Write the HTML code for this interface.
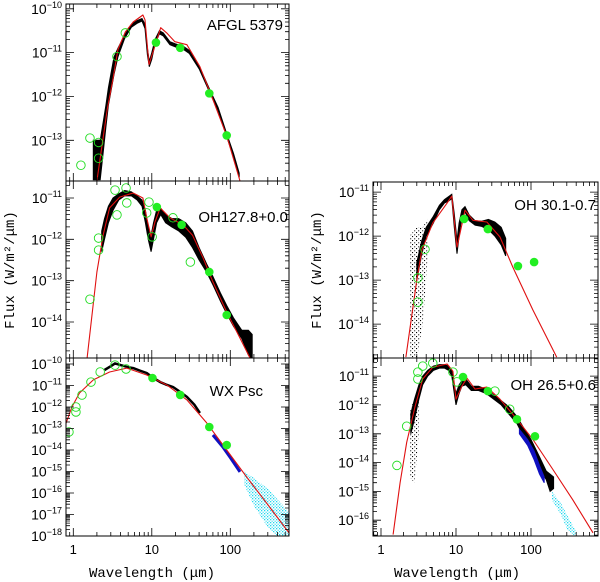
<!DOCTYPE html>
<html><head><meta charset="utf-8"><style>
html,body{margin:0;padding:0;background:#fff;}
svg{display:block;}
text{font-family:"Liberation Sans",sans-serif;}
</style></head><body>
<svg id="fig" width="600" height="582" viewBox="0 0 600 582" xmlns="http://www.w3.org/2000/svg">
<defs>
<pattern id="dots" width="4" height="4" patternUnits="userSpaceOnUse"><rect x="0" y="0" width="1.1" height="1.1" fill="#000"/><rect x="2.2" y="2.3" width="1" height="1" fill="#000"/></pattern>
<pattern id="cdots" width="3" height="3" patternUnits="userSpaceOnUse"><rect x="0" y="0" width="1.3" height="1.3" fill="#22d8ee"/><rect x="1.6" y="1.7" width="1.1" height="1.1" fill="#22d8ee"/></pattern>
</defs>
<text transform="translate(14,270) rotate(-90)" text-anchor="middle" font-size="14" style="font-family:'Liberation Mono',monospace">Flux (W/m²/μm)</text>
<text transform="translate(321,270) rotate(-90)" text-anchor="middle" font-size="14" style="font-family:'Liberation Mono',monospace">Flux (W/m²/μm)</text>
<text x="152" y="577" text-anchor="middle" font-size="14" style="font-family:'Liberation Mono',monospace">Wavelength (μm)</text>
<text x="457" y="577" text-anchor="middle" font-size="14" style="font-family:'Liberation Mono',monospace">Wavelength (μm)</text>
</svg>
<script>
// ---- AFGL 5379 ----
const afglModelLam=[2.0,2.7,3.2,3.7,4.6,5.8,7.7,8.2,9.2,10.6,13,15.5,19.7,28,41,60,90,133,200];
const afglModelLogF=[-13.93,-12.3,-11.6,-10.93,-10.53,-10.3,-10.14,-10.25,-11.27,-10.93,-10.43,-10.55,-10.75,-10.82,-11.32,-12.07,-12.9,-13.93,-15.3];
const afglSpecLam=[1.8,2.0,2.2,2.4,2.6,2.8,3.0,3.3,3.7,4.5,5.5,6.5,7.5,8.2,8.8,9.3,10,11,12.5,14,17,20,25,30,40,55,70,90,110,130];
const afglSpecLo=[-13.9,-13.9,-13.9,-13.3,-12.7,-12.2,-11.9,-11.5,-11.1,-10.68,-10.42,-10.33,-10.28,-10.45,-11.05,-11.32,-11.15,-10.8,-10.57,-10.62,-10.82,-10.87,-10.92,-11.02,-11.37,-11.92,-12.32,-12.92,-13.37,-13.85];
const afglSpecHi=[-13.0,-13.0,-13.0,-12.6,-12.2,-11.8,-11.5,-11.1,-10.9,-10.6,-10.35,-10.27,-10.22,-10.35,-10.9,-11.2,-11.0,-10.7,-10.5,-10.55,-10.75,-10.8,-10.85,-10.95,-11.3,-11.85,-12.25,-12.85,-13.3,-13.75];
const afglPhotLam=[11.3,23,54,90];
const afglPhotLogF=[-10.77,-10.89,-11.93,-12.89];
const afglOpenLam=[1.25,1.63,2.1,2.1,3.6,4.6];
const afglOpenLogF=[-13.57,-12.95,-13.05,-13.41,-11.09,-10.55];
// ---- OH127.8+0.0 ----
const oh127ModelLam=[1.5,2.0,2.4,2.9,3.9,5.8,7.7,8.6,9.8,11,12.8,17,25,33,45,60,90,133,178];
const oh127ModelLogF=[-14.87,-12.79,-11.9,-11.24,-10.98,-10.88,-11.0,-11.48,-11.94,-11.58,-11.24,-11.48,-11.65,-11.9,-12.45,-13.03,-13.76,-14.39,-14.87];
const oh127SpecLam=[2.3,2.5,2.8,3.2,3.8,4.5,5.5,6.5,7.5,8.3,9,9.8,10.5,11.5,13,15,18,22,27,33,40,50,60,75,90,110,140,170,190];
const oh127SpecLo=[-12.3,-12.0,-11.6,-11.3,-11.05,-10.95,-10.95,-11.05,-11.2,-11.6,-12.0,-12.3,-12.0,-11.6,-11.4,-11.6,-11.7,-11.8,-11.95,-12.2,-12.5,-12.8,-13.1,-13.5,-13.8,-14.1,-14.4,-14.8,-14.9];
const oh127SpecHi=[-11.8,-11.5,-11.2,-11.0,-10.9,-10.82,-10.85,-10.95,-11.05,-11.3,-11.7,-11.9,-11.6,-11.3,-11.25,-11.4,-11.5,-11.5,-11.6,-11.8,-12.2,-12.6,-12.9,-13.3,-13.6,-13.9,-14.2,-14.2,-14.3];
const oh127PhotLam=[11.6,24,54,90];
const oh127PhotLogF=[-11.22,-11.65,-12.79,-13.83];
const oh127OpenLam=[1.63,2.1,2.1,3.4,4.7,3.6,4.8,9.2,8.6,10.1,18.6,31];
const oh127OpenLogF=[-13.45,-11.97,-12.26,-10.81,-10.76,-11.41,-11.12,-11.1,-11.36,-11.94,-11.48,-12.55];
// ---- WX Psc ----
const wxModelLam=[0.8,0.96,1.2,1.8,2.9,4.8,8.6,15.6,28,50,90,162,290,600];
const wxModelLogF=[-12.8,-12.0,-11.35,-10.74,-10.37,-10.19,-10.51,-10.98,-11.67,-12.74,-14.0,-15.26,-16.47,-18.0];
const wxSpecLam=[2.5,3.0,3.4,4,5,5.8,7,8.6,10,12.8,15,18.6,22,28,35,41];
const wxSpecLogF=[-10.28,-10.1,-9.97,-10.05,-10.15,-10.19,-10.3,-10.42,-10.6,-10.84,-10.95,-11.07,-11.25,-11.53,-11.9,-12.28];
const wxBlueLam=[60,80,100,133];
const wxBlueLogF=[-13.3,-13.85,-14.35,-15.02];
const wxCyanLam=[150,200,300,400,600];
const wxCyanHi=[-15.0,-15.3,-15.8,-16.3,-17.0];
const wxCyanLo=[-15.6,-16.6,-17.6,-18,-18];
const wxPhotLam=[10.2,23,54,90];
const wxPhotLogF=[-10.65,-11.44,-12.93,-13.77];
const wxOpenLam=[0.88,1.08,1.08,1.29,1.68,2.2,3.4,4.7];
const wxOpenLogF=[-13.16,-12.23,-12.0,-11.44,-10.84,-10.37,-10.05,-10.23];
// ---- OH 30.1-0.7 ----
const oh30ModelLam=[2.15,3.0,3.5,4.9,7.6,8.8,10.3,13.2,16.8,25.8,38.6,57,106,220];
const oh30ModelLogF=[-14.75,-13.0,-12.32,-11.7,-11.25,-11.09,-12.25,-11.41,-11.64,-11.68,-12.02,-12.7,-13.68,-14.75];
const oh30SpecLam=[3.0,3.5,4,5,6,7,8,8.8,9.5,10.3,11,12,13.2,15,18,22,27,33,40,46];
const oh30SpecLo=[-13.0,-12.4,-12.0,-11.7,-11.4,-11.25,-11.2,-11.15,-11.8,-12.4,-12.0,-11.55,-11.45,-11.65,-11.75,-11.78,-11.85,-12.0,-12.2,-12.45];
const oh30SpecHi=[-12.6,-12.1,-11.8,-11.55,-11.3,-11.17,-11.1,-11.05,-11.5,-12.1,-11.7,-11.4,-11.33,-11.52,-11.65,-11.66,-11.62,-11.68,-11.8,-12.05];
const oh30NoiseLam=[2.4,3.0,3.6,4.2];
const oh30NoiseLo=[-14.8,-14.8,-14.0,-12.5];
const oh30NoiseHi=[-12.0,-11.8,-11.8,-11.6];
const oh30PhotLam=[12.8,26.6,67,110];
const oh30PhotLogF=[-11.61,-11.84,-12.68,-12.59];
const oh30OpenLam=[3.86,3.1,3.1];
const oh30OpenLogF=[-12.3,-12.95,-13.5];
// ---- OH 26.5+0.6 ----
const oh26ModelLam=[1.45,1.8,2.2,2.85,3.6,4.9,7.6,9.1,10,12,14,17.9,25.8,38.6,65,106,196,360,670];
const oh26ModelLogF=[-16.5,-14.7,-13.3,-12.05,-11.1,-10.69,-10.58,-10.83,-11.8,-11.35,-11.07,-11.45,-11.38,-11.8,-12.5,-13.2,-14.24,-15.29,-16.44];
const oh26SpecLam=[2.5,2.8,3.2,3.6,4.2,5,6,7,8,8.8,9.5,10,11,12,13.5,16,20,25,30,40,50,65,80,100,130,160,180,200];
const oh26SpecHi=[-12.3,-11.8,-11.3,-11.0,-10.8,-10.65,-10.6,-10.6,-10.65,-10.8,-11.3,-11.6,-11.3,-11.15,-11.1,-11.35,-11.35,-11.45,-11.6,-11.85,-12.05,-12.4,-12.8,-13.2,-13.8,-14.3,-14.4,-14.5];
const oh26SpecLo=[-13.0,-12.5,-11.8,-11.3,-11.0,-10.8,-10.72,-10.72,-10.8,-11.0,-11.6,-12.0,-11.6,-11.35,-11.3,-11.5,-11.5,-11.6,-11.75,-12.0,-12.3,-12.65,-13.1,-13.6,-14.2,-14.6,-15.0,-14.9];
const oh26NoiseLam=[2.4,2.8,3.2];
const oh26NoiseLo=[-14.5,-14.7,-13.0];
const oh26NoiseHi=[-12.2,-11.8,-11.5];
const oh26BlueLam=[70,90,110,130,150];
const oh26BlueHi=[-12.85,-13.2,-13.6,-14.1,-14.5];
const oh26BlueLo=[-13.0,-13.4,-13.9,-14.4,-14.7];
const oh26CyanLam=[190,250,300,400];
const oh26CyanHi=[-15.0,-15.4,-15.8,-16.4];
const oh26CyanLo=[-15.3,-15.8,-16.3,-16.6];
const oh26PhotLam=[12.4,26.6,65,113];
const oh26PhotLogF=[-11.03,-11.52,-12.5,-13.09];
const oh26OpenLam=[1.63,2.2,3.1,3.1,3.6,4.9,9.1,10.3,33,52];
const oh26OpenLogF=[-14.1,-12.74,-11.1,-10.86,-10.65,-10.55,-10.86,-11.2,-11.52,-12.15];
// tick label exponents
const tlTicks=[-10,-11,-12,-13];
const mlTicks=[-11,-12,-13,-14];
const blTicks=[-10,-11,-12,-13,-14,-15,-16,-17,-18];
const trTicks=[-11,-12,-13,-14];
const brTicks=[-11,-12,-13,-14,-15,-16];
const xTickLabels=[1,10,100];

const NS='http://www.w3.org/2000/svg';
const svg=document.getElementById('fig');
function mk(tag,attrs,parent){const e=document.createElementNS(NS,tag);for(const k in attrs)e.setAttribute(k,attrs[k]);(parent||svg).appendChild(e);return e;}

function panel(cfg){
  const g=mk('g',{});
  
  
  const xs=l=>cfg.x0+(Math.log10(l)-cfg.lmin)/(cfg.lmax-cfg.lmin)*(cfg.x1-cfg.x0);
  const ys=v=>cfg.y0+(cfg.ftop-v)/(cfg.ftop-cfg.fbot)*(cfg.y1-cfg.y0);
  const cid='clip'+cfg.name;
  const cp=mk('clipPath',{id:cid},g);mk('rect',{x:cfg.x0,y:cfg.y0,width:cfg.x1-cfg.x0,height:cfg.y1-cfg.y0},cp);
  const c=mk('g',{'clip-path':'url(#'+cid+')'},g);
  function band(lam,lo,hi,fill,nm){
    let pts=lam.map((l,i)=>xs(l).toFixed(1)+','+ys(hi[i]).toFixed(1));
    for(let i=lam.length-1;i>=0;i--)pts.push(xs(lam[i]).toFixed(1)+','+ys(lo[i]).toFixed(1));
    const solid=fill.indexOf('url')<0;
    const p=mk('polygon',{points:pts.join(' '),fill:fill,stroke:solid?fill:'none','stroke-width':1},c);
    
    
  }
  function line(lam,v,col,w,nm){
    const p=mk('polyline',{points:lam.map((l,i)=>xs(l).toFixed(1)+','+ys(v[i]).toFixed(1)).join(' '),fill:'none',stroke:col,'stroke-width':w,'stroke-linejoin':'round'},c);
    
    
  }
  (cfg.noise||[]).forEach(n=>band(n[0],n[1],n[2],'url(#dots)','noise-spectrum'));
  (cfg.cyan||[]).forEach(n=>band(n[0],n[1],n[2],'url(#cdots)','cyan-spectrum'));
  (cfg.spec||[]).forEach(n=>band(n[0],n[1],n[2],'#000','black-spectrum'));
  (cfg.specLine||[]).forEach(n=>line(n[0],n[1],'#000',2.5,'black-spectrum'));
  (cfg.blue||[]).forEach(n=>band(n[0],n[1],n[2],'#1010c0','blue-spectrum'));
  (cfg.blueLine||[]).forEach(n=>line(n[0],n[1],'#1010c0',3,'blue-spectrum'));
  line(cfg.model[0],cfg.model[1],'#e01010',1.1,'model-curve');
  cfg.open[0].forEach((l,i)=>{const e=mk('circle',{cx:xs(l),cy:ys(cfg.open[1][i]),r:4.3,fill:'none',stroke:'#22dd22','stroke-width':0.9},c);
    
    });
  cfg.phot[0].forEach((l,i)=>{const e=mk('circle',{cx:xs(l),cy:ys(cfg.phot[1][i]),r:4.3,fill:'#22ee22'},c);
    
    });
  const fr=mk('rect',{x:cfg.x0,y:cfg.y0,width:cfg.x1-cfg.x0,height:cfg.y1-cfg.y0,fill:'none',stroke:'#000','stroke-width':1},g);
  
  
  let d='';
  for(let e=-1;e<=3;e++)for(let m=1;m<=9;m++){const l=m*Math.pow(10,e);const lg=Math.log10(l);if(lg<cfg.lmin||lg>cfg.lmax)continue;const x=xs(l).toFixed(1);const L=m===1?8:4;d+=`M${x},${cfg.y1}v-${L}M${x},${cfg.y0}v${L}`;}
  for(let e=Math.ceil(cfg.fbot)-1;e<=Math.floor(cfg.ftop)+1;e++)for(let m=1;m<=9;m++){const v=e+Math.log10(m);if(v<cfg.fbot||v>cfg.ftop)continue;const y=ys(v).toFixed(1);const L=m===1?8:4;d+=`M${cfg.x0},${y}h${L}M${cfg.x1},${y}h-${L}`;}
  mk('path',{d:d,stroke:'#000','stroke-width':0.8,fill:'none'},g);
  cfg.yTicks.forEach(t=>{const tx=mk('text',{x:cfg.x0-4,y:ys(t)+5,'text-anchor':'end','font-size':14},g);
    
    
    tx.innerHTML='10<tspan dy="-6" font-size="9">−'+Math.abs(t)+'</tspan>';});
  if(cfg.xlabels){xTickLabels.forEach(t=>{const tx=mk('text',{x:xs(t),y:cfg.y1+18,'text-anchor':'middle','font-size':13},g);
    
    
    tx.textContent=t;});}
  const lb=mk('text',{x:cfg.lx,y:cfg.ly,'text-anchor':'end','font-size':15},g);
  
  
  lb.textContent=cfg.label;
}
const L0=-7.3/78.5, L1=(289-73.3)/78.5;
const R0=-8/75, R1=217/75;
panel({name:'panel-afgl5379',x0:66,x1:289,y0:4,y1:181,lmin:L0,lmax:L1,ftop:-9.89,fbot:-13.93,
  model:[afglModelLam,afglModelLogF],spec:[[afglSpecLam,afglSpecLo,afglSpecHi]],
  phot:[afglPhotLam,afglPhotLogF],open:[afglOpenLam,afglOpenLogF],yTicks:tlTicks,label:'AFGL 5379',lx:283,ly:30});
panel({name:'panel-oh127',x0:66,x1:289,y0:181,y1:358,lmin:L0,lmax:L1,ftop:-10.59,fbot:-14.87,
  model:[oh127ModelLam,oh127ModelLogF],spec:[[oh127SpecLam,oh127SpecLo,oh127SpecHi]],
  phot:[oh127PhotLam,oh127PhotLogF],open:[oh127OpenLam,oh127OpenLogF],yTicks:mlTicks,label:'OH127.8+0.0',lx:288,ly:222});
panel({name:'panel-wxpsc',x0:66,x1:289,y0:358,y1:536,lmin:L0,lmax:L1,ftop:-9.72,fbot:-18,
  model:[wxModelLam,wxModelLogF],specLine:[[wxSpecLam,wxSpecLogF]],blueLine:[[wxBlueLam,wxBlueLogF]],cyan:[[wxCyanLam,wxCyanLo,wxCyanHi]],
  phot:[wxPhotLam,wxPhotLogF],open:[wxOpenLam,wxOpenLogF],yTicks:blTicks,label:'WX Psc',lx:263,ly:396,xlabels:true});
panel({name:'panel-oh30',x0:373,x1:598,y0:182,y1:358,lmin:R0,lmax:R1,ftop:-10.77,fbot:-14.77,
  model:[oh30ModelLam,oh30ModelLogF],noise:[[oh30NoiseLam,oh30NoiseLo,oh30NoiseHi]],spec:[[oh30SpecLam,oh30SpecLo,oh30SpecHi]],
  phot:[oh30PhotLam,oh30PhotLogF],open:[oh30OpenLam,oh30OpenLogF],yTicks:trTicks,label:'OH 30.1-0.7',lx:596,ly:210});
panel({name:'panel-oh26',x0:373,x1:598,y0:358,y1:536,lmin:R0,lmax:R1,ftop:-10.37,fbot:-16.55,
  model:[oh26ModelLam,oh26ModelLogF],noise:[[oh26NoiseLam,oh26NoiseLo,oh26NoiseHi]],spec:[[oh26SpecLam,oh26SpecLo,oh26SpecHi]],
  blue:[[oh26BlueLam,oh26BlueLo,oh26BlueHi]],cyan:[[oh26CyanLam,oh26CyanLo,oh26CyanHi]],
  phot:[oh26PhotLam,oh26PhotLogF],open:[oh26OpenLam,oh26OpenLogF],yTicks:brTicks,label:'OH 26.5+0.6',lx:596,ly:390,xlabels:true});
</script>
</body></html>
